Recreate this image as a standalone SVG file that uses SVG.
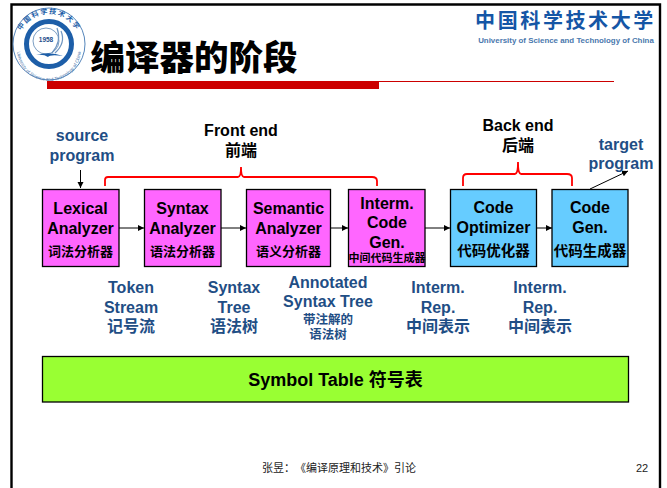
<svg xmlns="http://www.w3.org/2000/svg" width="667" height="488" viewBox="0 0 667 488">
<style>
text{font-family:"Liberation Sans","Noto Sans CJK SC",sans-serif;text-anchor:middle}
.b{font-weight:700;font-size:16px;fill:#000}
.n{font-weight:700;font-size:16px;fill:#1f4e85}
.c{font-weight:700;font-size:13px;fill:#000}
.d{font-weight:700;font-size:14.500px;fill:#000}
.box{stroke:#000;stroke-width:1.3}
.p{fill:#ff66ff}.q{fill:#66ccff}
.e{fill:none;stroke:#000;stroke-width:1}
.r{fill:none;stroke:#ff0000;stroke-width:1.800}
</style>
<defs>
<marker id="a" markerWidth="7" markerHeight="7" refX="6" refY="3" orient="auto" markerUnits="userSpaceOnUse"><path d="M0 0L6 3L0 6Z" fill="#000"/></marker>
</defs>
<rect width="667" height="488" fill="#fff"/>
<g id="frame">
<path d="M11.500 488V4.500H660V488" fill="none" stroke="#000" stroke-width="2.400"/>
</g>
<g id="logo">
<circle cx="49" cy="44" r="36" fill="#fff" stroke="#2a66a8" stroke-width="0.800"/>
<circle cx="49" cy="44" r="22.500" fill="#fff" stroke="#1d5ea8" stroke-width="5"/>
<circle cx="46" cy="41" r="13" fill="#fff" stroke="#7d9fc4" stroke-width="1"/>
<text x="46" y="42" style="font-size:6.500px;font-weight:700;fill:#1d4f8c">1958</text>
<path d="M36 55Q50 51 63 56Q50 54 48 57Q44 54 36 55Z" fill="#1d5ea8"/>
<path d="M52 53Q62 41 57 28M55 53Q66 43 61 31" fill="none" stroke="#6f95c0" stroke-width="1.200"/>
<path id="arcTop" d="M19 37A31 31 0 0 1 79 37" fill="none"/>
<text style="font-size:7px;font-weight:700;fill:#1d5ea8;letter-spacing:1.500px"><textPath href="#arcTop" startOffset="50%">中国科学技术大学</textPath></text>
<path id="arcBot" d="M17 49A32 32 0 0 0 81 49" fill="none"/>
<text style="font-size:4.600px;fill:#4a78ad"><textPath href="#arcBot" startOffset="50%">University of Science and Technology of China</textPath></text>
</g>
<g id="title">
<text x="194" y="70" style="font-size:34.500px;font-weight:900;fill:#000">编译器的阶段</text>
<rect x="47" y="81" width="332" height="8" fill="#cc0000"/>
<rect x="379" y="81" width="235" height="1" fill="#cc0000"/>
</g>
<g id="ustc">
<text x="565.500" y="28" style="font-size:20px;font-weight:700;fill:#1556a6;letter-spacing:2.600px">中国科学技术大学</text>
<text x="566" y="43" style="font-size:7.900px;font-weight:700;fill:#4a78ad">University of Science and Technology of China</text>
</g>
<g id="connectors">
<path class="e" d="M80.500 170V188" marker-end="url(#a)"/>
<path class="e" d="M119 228H144" marker-end="url(#a)"/>
<path class="e" d="M221 228H246" marker-end="url(#a)"/>
<path class="e" d="M330 228H348" marker-end="url(#a)"/>
<path class="e" d="M425 228H450" marker-end="url(#a)"/>
<path class="e" d="M536 228H552" marker-end="url(#a)"/>
<path class="e" d="M590 189L628 171" marker-end="url(#a)"/>
<path class="r" d="M105 186V180Q105 177 108 177H238Q241 177 241 167Q241 177 244 177H372Q377 177 377 181V186"/>
<path class="r" d="M463 186V178Q463 174 467 174H515Q518 174 518 162Q518 174 521 174H567Q572 174 572 178V186"/>
</g>
<g id="source-label"><text class="n" x="82" y="141">source</text><text class="n" x="82" y="161">program</text></g>
<g id="front-end"><text class="b" x="241" y="136">Front end</text><text class="b" x="241" y="156">前端</text></g>
<g id="back-end"><text class="b" x="518" y="131">Back end</text><text class="b" x="518" y="151">后端</text></g>
<g id="target-label"><text class="n" x="621" y="150">target</text><text class="n" x="621" y="169">program</text></g>
<g id="lexical"><rect class="box p" x="42.500" y="189.500" width="76.500" height="77"/><text class="b" x="80.500" y="214">Lexical</text><text class="b" x="80.500" y="234">Analyzer</text><text class="c" x="80.500" y="256">词法分析器</text></g>
<g id="syntax"><rect class="box p" x="144.500" y="189.500" width="76.500" height="77"/><text class="b" x="182.500" y="214">Syntax</text><text class="b" x="182.500" y="234">Analyzer</text><text class="c" x="182.500" y="256">语法分析器</text></g>
<g id="semantic"><rect class="box p" x="246.500" y="189.500" width="84" height="77"/><text class="b" x="288.500" y="214">Semantic</text><text class="b" x="288.500" y="234">Analyzer</text><text class="c" x="288.500" y="256">语义分析器</text></g>
<g id="interm"><rect class="box p" x="348.500" y="189.500" width="76.500" height="77"/><text class="b" x="387" y="209">Interm.</text><text class="b" x="387" y="228">Code</text><text class="b" x="387" y="248">Gen.</text><text x="387" y="262" style="font-size:11px;font-weight:700">中间代码生成器</text></g>
<g id="optimizer"><rect class="box q" x="450.500" y="189.500" width="86" height="77"/><text class="b" x="493.500" y="213">Code</text><text class="b" x="493.500" y="233">Optimizer</text><text class="d" x="493.500" y="256">代码优化器</text></g>
<g id="codegen"><rect class="box q" x="552" y="189.500" width="76" height="77"/><text class="b" x="590" y="213">Code</text><text class="b" x="590" y="233">Gen.</text><text class="d" x="590" y="256">代码生成器</text></g>
<g id="token"><text class="n" x="131" y="293">Token</text><text class="n" x="131" y="313">Stream</text><text class="n" x="131" y="332">记号流</text></g>
<g id="tree"><text class="n" x="234" y="293">Syntax</text><text class="n" x="234" y="313">Tree</text><text class="n" x="234" y="332">语法树</text></g>
<g id="annotated"><text class="n" x="328" y="288">Annotated</text><text class="n" x="328" y="307">Syntax Tree</text><text class="n" x="328" y="324" style="font-size:12.500px">带注解的</text><text class="n" x="328" y="339" style="font-size:12.500px">语法树</text></g>
<g id="rep1"><text class="n" x="438" y="293">Interm.</text><text class="n" x="438" y="313">Rep.</text><text class="n" x="438" y="332">中间表示</text></g>
<g id="rep2"><text class="n" x="540" y="293">Interm.</text><text class="n" x="540" y="313">Rep.</text><text class="n" x="540" y="332">中间表示</text></g>
<g id="symbol"><rect class="box" x="42.500" y="356.500" width="586" height="45.500" fill="#99ff33"/><text x="335.500" y="386" style="font-size:18px;font-weight:700;fill:#000">Symbol Table 符号表</text></g>
<g id="footer"><text x="339" y="472" style="font-size:11px;fill:#222;text-spacing-trim:space-all">张昱：《编译原理和技术》引论</text><text x="642" y="472" style="font-size:11px;fill:#222">22</text></g>
</svg>
